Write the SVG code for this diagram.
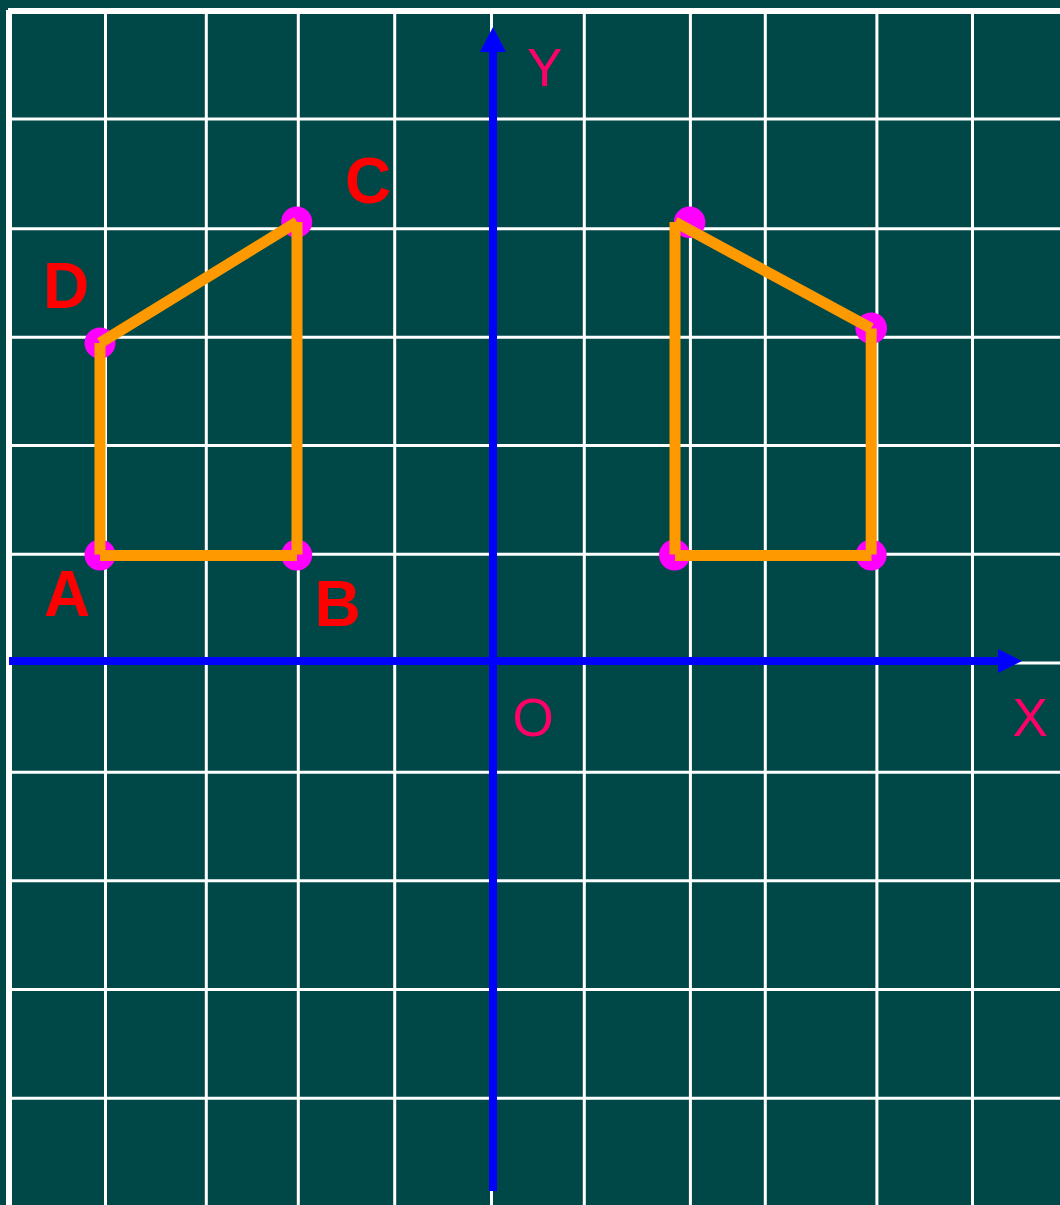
<svg xmlns="http://www.w3.org/2000/svg" width="1060" height="1205" viewBox="0 0 1060 1205">
<style>
.g{stroke:#FFFFFF;stroke-width:3;fill:none}
.ax{stroke:#0000FF;stroke-width:8;fill:none}
.ah{fill:#0000FF}
.sh{stroke:#FF9900;stroke-width:11;stroke-linecap:butt;fill:none}
.pt{fill:#FF00FF}
.lb{font-family:"Liberation Sans",Arial,sans-serif;font-size:64px;font-weight:bold;fill:#FF0000}
.axl{font-family:"Liberation Sans",Arial,sans-serif;font-size:53px;fill:#FF0066}
</style>
<rect x="0" y="0" width="1060" height="1205" fill="#004848"/>
<g id="grid">
<rect x="8" y="8" width="1052" height="6" fill="#FFFFFF"/>
<rect x="6" y="10" width="6" height="1195" fill="#FFFFFF"/>
<path class="g" d="M105.5 10V1205M206.3 10V1205M298.3 10V1205M394.7 10V1205M491.5 10V1205M584.3 10V1205M690.4 10V1205M765.3 10V1205M876.9 10V1205M972.5 10V1205"/>
<path class="g" d="M10 119H1060M10 228.7H1060M10 337.3H1060M10 445.5H1060M10 554.2H1060M10 663H1060M10 772.2H1060M10 880.8H1060M10 989.5H1060M10 1098.2H1060"/>
</g>
<g id="axes">
<line class="ax" x1="9" y1="661" x2="999" y2="661"/>
<polygon class="ah" points="998,649 1022,661 998,673"/>
<line class="ax" x1="493" y1="1191" x2="493" y2="51"/>
<polygon class="ah" points="480,52 493,27 506,52"/>
<text class="axl" x="527" y="86">Y</text>
<text class="axl" x="1012.5" y="735.7">X</text>
<text class="axl" x="512.5" y="736">O</text>
</g>
<g id="shape-ABCD">
<circle class="pt" cx="100" cy="555" r="15.5"/>
<circle class="pt" cx="296.7" cy="555" r="15.5"/>
<circle class="pt" cx="296.7" cy="222" r="15.5"/>
<circle class="pt" cx="100" cy="343" r="15.5"/>
<line class="sh" x1="100" y1="555.5" x2="297" y2="555.5"/>
<line class="sh" x1="100" y1="343" x2="100" y2="554.5"/>
<line class="sh" x1="297" y1="222" x2="297" y2="554.5"/>
<line class="sh" x1="100" y1="343" x2="297" y2="222"/>
</g>
<g id="shape-image">
<circle class="pt" cx="674.5" cy="555" r="15.5"/>
<circle class="pt" cx="871.2" cy="555" r="15.5"/>
<circle class="pt" cx="871.2" cy="328.2" r="15.8"/>
<circle class="pt" cx="689.6" cy="222.3" r="15.8"/>
<line class="sh" x1="675" y1="555.5" x2="871.5" y2="555.5"/>
<line class="sh" x1="675" y1="222" x2="675" y2="554.5"/>
<line class="sh" x1="871.2" y1="328.5" x2="871.2" y2="554.5"/>
<line class="sh" x1="675" y1="222" x2="871.2" y2="328.3"/>
</g>
<g id="labels">
<text class="lb" x="44" y="615.7">A</text>
<text class="lb" x="314.6" y="625.7">B</text>
<text class="lb" x="345" y="202.5">C</text>
<text class="lb" x="43" y="308.3">D</text>
</g>
</svg>
